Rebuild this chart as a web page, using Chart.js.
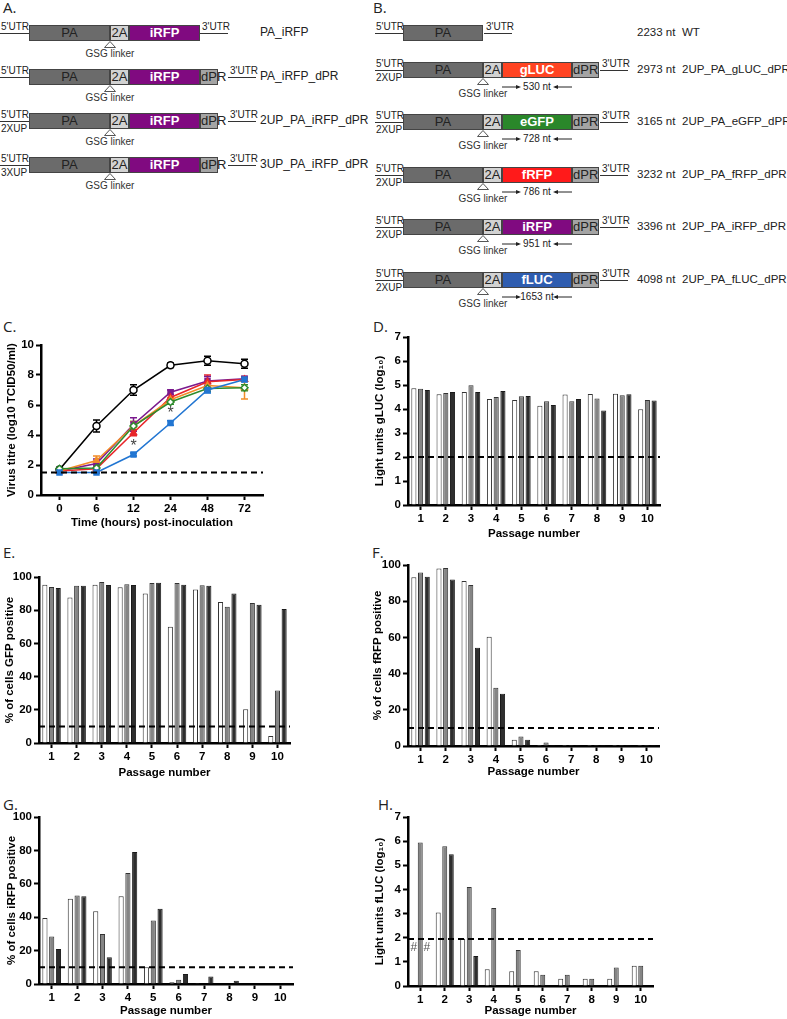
<!DOCTYPE html>
<html>
<head>
<meta charset="utf-8">
<script src="https://cdn.jsdelivr.net/npm/chart.js@4.4.0/dist/chart.umd.min.js"></script>
<style>
body { margin: 0; background: #fff; font-family: Arial, "Liberation Sans", sans-serif; }
#page { position: relative; width: 787px; height: 1019px; overflow: hidden; background: #fff; }
.plabel { position: absolute; font-family: "Open Sans", sans-serif; font-size: 15px; line-height: 15px; color: #222; }
.seg { position: absolute; box-sizing: border-box; height: 16px; border: 1px solid #444; text-align: center; font-size: 13px; line-height: 14px; }
</style>
</head>
<body>
<div id="page"></div>
<script>
// growth curves (panel C)
var timePoints = ['0', '6', '12', '24', '48', '72'];
var titreWT = [1.7, 4.6, 7.0, 8.65, 8.95, 8.75];
var titreWTErr = [0.1, 0.4, 0.35, 0.15, 0.3, 0.3];
var titreIRFP = [1.6, 2.1, 4.7, 6.85, 7.6, 7.75];
var titreIRFPErr = [0.1, 0.3, 0.45, 0.15, 0.3, 0.15];
var titreFRFP = [1.6, 1.75, 4.15, 6.5, 7.55, 7.7];
var titreFRFPErr = [0.1, 0.2, 0.2, 0.2, 0.45, 0.1];
var titreGLUC = [1.6, 2.3, 4.6, 6.35, 7.3, 7.15];
var titreGLUCErr = [0.1, 0.3, 0.3, 0.15, 0.3, 0.75];
var titreEGFP = [1.75, 1.8, 4.6, 6.2, 7.1, 7.15];
var titreEGFPErr = [0.1, 0.15, 0.3, 0.15, 0.2, 0.2];
var titreFLUC = [1.5, 1.5, 2.7, 4.8, 7.0, 7.7];
var titreFLUCErr = [0.05, 0.05, 0.1, 0.15, 0.2, 0.15];
var titreLimit = 1.5;
var starIndex = [2, 3];
var starValue = [3.2, 5.45];

// passage experiments (panels D-H)
var passages = ['1', '2', '3', '4', '5', '6', '7', '8', '9', '10'];

var gLucRun1 = [4.86, 4.61, 4.71, 4.42, 4.38, 4.14, 4.6, 4.63, 4.64, 3.99];
var gLucRun2 = [4.84, 4.67, 4.99, 4.5, 4.53, 4.32, 4.32, 4.44, 4.57, 4.38];
var gLucRun3 = [4.79, 4.71, 4.71, 4.75, 4.54, 4.17, 4.42, 3.94, 4.61, 4.35];
var gLucLimit = 2;

var gfpRun1 = [95.4, 87.7, 95.4, 93.8, 90.0, 70.1, 92.4, 84.9, 20.4, 4.2];
var gfpRun2 = [94.0, 94.8, 97.0, 95.6, 96.4, 96.4, 95.0, 82.1, 84.3, 31.7];
var gfpRun3 = [93.4, 94.8, 95.2, 95.2, 96.6, 95.4, 94.8, 90.0, 83.3, 80.7];

var frfpRun1 = [93.2, 98.0, 91.1, 60.4, 3.5, 0.5, 0.5, 0.5, 0.5, 0.5];
var frfpRun2 = [95.9, 98.3, 88.9, 32.2, 5.3, 2.0, 0.5, 0.5, 0.5, 0.5];
var frfpRun3 = [93.5, 92.0, 54.3, 28.8, 3.5, 0.5, 0.5, 0.5, 0.5, 0.5];

var irfpRun1 = [39.5, 51, 43.5, 52.5, 10, 1, 0.5, 0, 0, 0];
var irfpRun2 = [28.5, 53, 30, 66.5, 38, 2.5, 0, 0, 0, 0];
var irfpRun3 = [21, 52.5, 16, 79, 45, 6, 4.5, 2, 0, 0];
var percentLimit = 10;

var fLucRun1 = [null, 3.04, 1.96, 0.69, 0.61, 0.61, 0.3, 0.3, 0.3, 0.84];
var fLucRun2 = [5.94, 5.79, 4.1, 3.23, 1.49, 0.47, 0.47, 0.3, 0.77, 0.84];
var fLucRun3 = [null, 5.46, 1.24, null, null, null, null, null, null, null];
var fLucLimit = 1.95;
var hashValue = 1.58;

// constructs (panels A and B)
var constructNamesA = ['PA_iRFP', 'PA_iRFP_dPR', '2UP_PA_iRFP_dPR', '3UP_PA_iRFP_dPR'];
var upstreamA = ['', '', '2XUP', '3XUP'];
var hasDprA = [false, true, true, true];
var reportersB = ['', 'gLUC', 'eGFP', 'fRFP', 'iRFP', 'fLUC'];
var reporterColorsB = ['', '#ff4422', '#2a872a', '#ff1a1a', '#800a80', '#2f5db0'];
var lengthsB = ['2233 nt', '2973 nt', '3165 nt', '3232 nt', '3396 nt', '4098 nt'];
var namesB = ['WT', '2UP_PA_gLUC_dPR', '2UP_PA_eGFP_dPR', '2UP_PA_fRFP_dPR', '2UP_PA_iRFP_dPR', '2UP_PA_fLUC_dPR'];
var insertsB = ['', '530 nt', '728 nt', '786 nt', '951 nt', '1653 nt'];

var page = document.getElementById('page');

function put (html, css) {
  var d = document.createElement('div');
  d.style.cssText = 'position:absolute;white-space:nowrap;' + css;
  d.innerHTML = html;
  page.appendChild(d);
  return d;
}

function drawConstruct (c) {
  var x = c.x0;
  put('', 'left:' + c.utrLeft + 'px;top:' + c.y + 'px;width:' + (c.x0 - c.utrLeft) + 'px;border-top:1px solid #333;');
  put("5'UTR", 'left:' + (c.utrLeft + 1) + 'px;top:' + (c.y - 12) + 'px;font-size:10px;line-height:11px;color:#222;');
  if (c.up) {
    put(c.up, 'left:' + (c.utrLeft + 1) + 'px;top:' + (c.y + 2) + 'px;font-size:10px;line-height:11px;color:#222;');
  }
  var segs = [['PA', c.widths[0], '#6b6b6b', '#222', 'normal']];
  if (c.reporter) {
    segs.push(['2A', c.widths[1], '#d2d2d2', '#222', 'normal']);
    segs.push([c.reporter, c.widths[2], c.repColor, '#fff', 'bold']);
    if (c.dpr) segs.push(['dPR', c.widths[3], '#a4a4a4', '#222', 'normal']);
  }
  var linkX = x + c.widths[0];
  var repX = linkX + c.widths[1];
  segs.forEach(function (s) {
    var d = put(s[0], 'left:' + x + 'px;top:' + (c.y - 8) + 'px;width:' + s[1] + 'px;background:' + s[2] + ';color:' + s[3] + ';font-weight:' + s[4] + ';');
    d.className = 'seg';
    x += s[1];
  });
  var gap = c.utrGap || 0;
  put('', 'left:' + (x + gap) + 'px;top:' + c.y + 'px;width:' + 28 + 'px;border-top:1px solid #333;');
  put("3'UTR", 'left:' + (x + gap + 2) + 'px;top:' + (c.y - 12) + 'px;font-size:10px;line-height:11px;color:#222;');
  if (c.reporter) {
    put('<svg width="12" height="7"><polygon points="6,0.5 11.5,6.5 0.5,6.5" fill="#fff" stroke="#555" stroke-width="1"/></svg>',
      'left:' + (linkX - 6) + 'px;top:' + (c.y + 8) + 'px;line-height:0;');
    put('GSG linker', 'left:' + (linkX - 35) + 'px;width:70px;text-align:center;top:' + (c.y + c.gsgOff - 5) + 'px;font-size:10px;line-height:12px;color:#333;');
  }
  if (c.insert) {
    var w = c.widths[2];
    put('<svg width="' + w + '" height="8" style="position:absolute;left:0;top:0">' +
      '<line x1="0" y1="4" x2="17" y2="4" stroke="#222" stroke-width="1"/><polygon points="19,4 14,2 14,6" fill="#222"/>' +
      '<line x1="' + w + '" y1="4" x2="' + (w - 17) + '" y2="4" stroke="#222" stroke-width="1"/><polygon points="' + (w - 19) + ',4 ' + (w - 14) + ',2 ' + (w - 14) + ',6" fill="#222"/></svg>' +
      '<div style="position:absolute;left:0;width:' + w + 'px;top:-2px;text-align:center;font-size:10px;line-height:12px;color:#222;">' + c.insert + '</div>',
      'left:' + repX + 'px;top:' + (c.y + 13) + 'px;width:' + w + 'px;height:8px;');
  }
  if (c.ntText) put(c.ntText, 'left:' + c.ntX + 'px;top:' + (c.y - 8) + 'px;font-size:' + c.nameSize + 'px;line-height:15px;color:#222;');
  put(c.name, 'left:' + c.nameX + 'px;top:' + (c.y - 8) + 'px;font-size:' + c.nameSize + 'px;line-height:15px;color:#222;');
}

var rowYA = [33, 77, 121, 165];
for (var i = 0; i < constructNamesA.length; i++) {
  drawConstruct({
    x0: 29, utrLeft: 0, y: rowYA[i], widths: [81, 19, 71, 18], reporter: 'iRFP', repColor: '#800a80',
    dpr: hasDprA[i], up: upstreamA[i], name: constructNamesA[i], nameX: 260, nameSize: 12, gsgOff: 20,
    utrGap: hasDprA[i] ? 10 : 0
  });
}

var rowYB = [33, 70, 122, 175, 227, 280];
for (var j = 0; j < namesB.length; j++) {
  drawConstruct({
    x0: 403, utrLeft: 375, y: rowYB[j], widths: [80, 19, 70, 27], reporter: reportersB[j], repColor: reporterColorsB[j],
    dpr: true, up: j > 0 ? '2XUP' : '', name: namesB[j], nameX: 682, ntText: lengthsB[j], ntX: 637, nameSize: 11.5,
    insert: insertsB[j], gsgOff: 23, utrGap: 1
  });
}

var panelLabels = [['A.', 3, 0], ['B.', 373, 0], ['C.', 3, 319], ['D.', 373, 319], ['E.', 3, 545], ['F.', 372, 545], ['G.', 3, 797], ['H.', 378, 797]];
panelLabels.forEach(function (p) {
  put(p[0], 'left:' + p[1] + 'px;top:' + p[2] + 'px;').className = 'plabel';
});

// chart plugins
var thresholdPlugin = {
  id: 'threshold',
  afterDatasetsDraw: function (chart, args, opts) {
    if (opts.value == null) return;
    var ctx = chart.ctx;
    var area = chart.chartArea;
    var py = chart.scales.y.getPixelForValue(opts.value);
    ctx.save();
    ctx.setLineDash([6, 4]);
    ctx.lineWidth = 2;
    ctx.strokeStyle = '#000';
    ctx.beginPath();
    ctx.moveTo(area.left, py);
    ctx.lineTo(area.right, py);
    ctx.stroke();
    ctx.restore();
  }
};

var errorBarPlugin = {
  id: 'errorBars',
  beforeDatasetsDraw: function (chart) {
    var ctx = chart.ctx;
    var y = chart.scales.y;
    chart.data.datasets.forEach(function (ds, i) {
      if (!ds.errors) return;
      var meta = chart.getDatasetMeta(i);
      ctx.save();
      ctx.strokeStyle = ds.borderColor;
      ctx.lineWidth = 1.5;
      meta.data.forEach(function (pt, k) {
        var e = ds.errors[k];
        if (!e) return;
        var top = y.getPixelForValue(ds.data[k] + e);
        var bot = y.getPixelForValue(ds.data[k] - e);
        ctx.beginPath();
        ctx.moveTo(pt.x, top); ctx.lineTo(pt.x, bot);
        ctx.moveTo(pt.x - 3.5, top); ctx.lineTo(pt.x + 3.5, top);
        ctx.moveTo(pt.x - 3.5, bot); ctx.lineTo(pt.x + 3.5, bot);
        ctx.stroke();
      });
      ctx.restore();
    });
  }
};

var marksPlugin = {
  id: 'marks',
  afterDatasetsDraw: function (chart, args, opts) {
    if (!opts.items) return;
    var ctx = chart.ctx;
    ctx.save();
    ctx.fillStyle = opts.color || '#444';
    ctx.font = opts.font || '15px Arial';
    ctx.textAlign = 'center';
    ctx.textBaseline = 'middle';
    opts.items.forEach(function (m) {
      var x = chart.scales.x.getPixelForValue(m.index);
      if (m.dataset != null) {
        var el = chart.getDatasetMeta(m.dataset).data[m.index];
        if (el && isFinite(el.x)) x = el.x;
      }
      ctx.fillText(m.text, x, chart.scales.y.getPixelForValue(m.value));
    });
    ctx.restore();
  }
};

Chart.defaults.font.family = 'Arial, "Liberation Sans", sans-serif';
Chart.defaults.color = '#000';

function makeChart (lay, type, labels, datasets, yMax, yStep, yTitle, pluginOpts) {
  var box = {
    left: lay.yTitleX - 7,
    top: lay.plotTop - 12,
    right: lay.plotRight + 6,
    bottom: lay.xTitleY + 7
  };
  var wrap = document.createElement('div');
  wrap.style.cssText = 'position:absolute;left:' + box.left + 'px;top:' + box.top + 'px;width:' + (box.right - box.left) + 'px;height:' + (box.bottom - box.top) + 'px;';
  var cv = document.createElement('canvas');
  wrap.appendChild(cv);
  page.appendChild(wrap);
  var pluginConf = {legend: {display: false}, tooltip: {enabled: false}};
  for (var key in pluginOpts) pluginConf[key] = pluginOpts[key];
  return new Chart(cv.getContext('2d'), {
    type: type,
    data: {labels: labels, datasets: datasets},
    plugins: [thresholdPlugin, errorBarPlugin, marksPlugin],
    options: {
      responsive: true,
      maintainAspectRatio: false,
      animation: false,
      events: [],
      layout: {padding: {top: 12, right: 6, left: 0, bottom: 0}},
      plugins: pluginConf,
      scales: {
        x: {
          offset: true,
          grid: {offset: false, drawOnChartArea: false, drawTicks: true, tickLength: 5, tickWidth: 2, tickColor: '#000'},
          border: {color: '#000', width: 2.5},
          ticks: {color: '#000', font: {size: 11.5, weight: 'bold'}, padding: 2, maxRotation: 0, autoSkip: false},
          title: {display: true, text: lay.xTitle, color: '#000', font: {size: 11.5, weight: 'bold'}, padding: 0},
          afterFit: function (s) { s.height = box.bottom - lay.plotBottom; }
        },
        y: {
          min: 0,
          max: yMax,
          grid: {drawOnChartArea: false, drawTicks: true, tickLength: 5, tickWidth: 2, tickColor: '#000'},
          border: {color: '#000', width: 2.5},
          ticks: {stepSize: yStep, color: '#000', font: {size: 11.5, weight: 'bold'}, padding: 2},
          title: {display: true, text: yTitle, color: '#000', font: {size: 11.5, weight: 'bold'}, padding: 0},
          afterFit: function (s) { s.width = lay.plotLeft - box.left; }
        }
      }
    }
  });
}

function titreSeries (label, data, errs, color, style, fill) {
  return {
    label: label, data: data, errors: errs, borderColor: color, backgroundColor: fill,
    pointStyle: style, pointRadius: 3.5, pointBorderWidth: 1.5, borderWidth: 1.6, tension: 0
  };
}

function barSeries (a, b, c) {
  var common = {borderWidth: 1, barPercentage: 0.76, categoryPercentage: 0.8};
  return [
    Object.assign({label: 'Run 1', data: a, backgroundColor: '#fff', borderColor: '#333'}, common),
    Object.assign({label: 'Run 2', data: b, backgroundColor: '#858585', borderColor: '#333'}, common),
    Object.assign({label: 'Run 3', data: c, backgroundColor: '#2e2e2e', borderColor: '#1a1a1a'}, common)
  ];
}

makeChart({plotLeft: 41, plotTop: 345, plotRight: 263, plotBottom: 495, yTitleX: 12, xTitleY: 523, xTitle: 'Time (hours) post-inoculation'},
  'line', timePoints, [
    titreSeries('2UP_PA_fLUC_dPR', titreFLUC, titreFLUCErr, '#2276d2', 'rect', '#2276d2'),
    titreSeries('2UP_PA_eGFP_dPR', titreEGFP, titreEGFPErr, '#2e8b2e', 'rectRot', '#fff'),
    titreSeries('2UP_PA_gLUC_dPR', titreGLUC, titreGLUCErr, '#f28c28', 'triangle', '#f28c28'),
    titreSeries('2UP_PA_fRFP_dPR', titreFRFP, titreFRFPErr, '#e8262a', 'triangle', '#e8262a'),
    titreSeries('2UP_PA_iRFP_dPR', titreIRFP, titreIRFPErr, '#7b1a8e', 'rect', '#7b1a8e'),
    titreSeries('WT', titreWT, titreWTErr, '#000', 'circle', '#fff')
  ], 10, 1, 'Virus titre (log10 TCID50/ml)',
  {threshold: {value: titreLimit}, marks: {items: starIndex.map(function (k, n) { return {index: k, value: starValue[n], text: '*'}; }), font: '16px Arial', color: '#444'}});

makeChart({plotLeft: 408, plotTop: 337, plotRight: 660, plotBottom: 505, yTitleX: 380, xTitleY: 534, xTitle: 'Passage number'},
  'bar', passages, barSeries(gLucRun1, gLucRun2, gLucRun3), 7, 1, 'Light units gLUC (log\u2081\u2080)',
  {threshold: {value: gLucLimit}});

makeChart({plotLeft: 39, plotTop: 577, plotRight: 290, plotBottom: 743, yTitleX: 10, xTitleY: 773, xTitle: 'Passage number'},
  'bar', passages, barSeries(gfpRun1, gfpRun2, gfpRun3), 100, 20, '% of cells GFP positive',
  {threshold: {value: percentLimit}});

makeChart({plotLeft: 408, plotTop: 565, plotRight: 659, plotBottom: 746, yTitleX: 378, xTitleY: 772, xTitle: 'Passage number'},
  'bar', passages, barSeries(frfpRun1, frfpRun2, frfpRun3), 100, 20, '% of cells fRFP positive',
  {threshold: {value: percentLimit}});

makeChart({plotLeft: 39, plotTop: 817, plotRight: 293, plotBottom: 984, yTitleX: 12, xTitleY: 1011, xTitle: 'Passage number'},
  'bar', passages, barSeries(irfpRun1, irfpRun2, irfpRun3), 100, 20, '% of cells iRFP positive',
  {threshold: {value: percentLimit}});

makeChart({plotLeft: 408, plotTop: 817, plotRight: 653, plotBottom: 986, yTitleX: 380, xTitleY: 1011, xTitle: 'Passage number'},
  'bar', passages, barSeries(fLucRun1, fLucRun2, fLucRun3), 7, 1, 'Light units fLUC (log\u2081\u2080)',
  {threshold: {value: fLucLimit}, marks: {items: [{index: 0, dataset: 0, value: hashValue, text: '#'}, {index: 0, dataset: 2, value: hashValue, text: '#'}], font: '12px Arial', color: '#555'}});
</script>
</body>
</html>
